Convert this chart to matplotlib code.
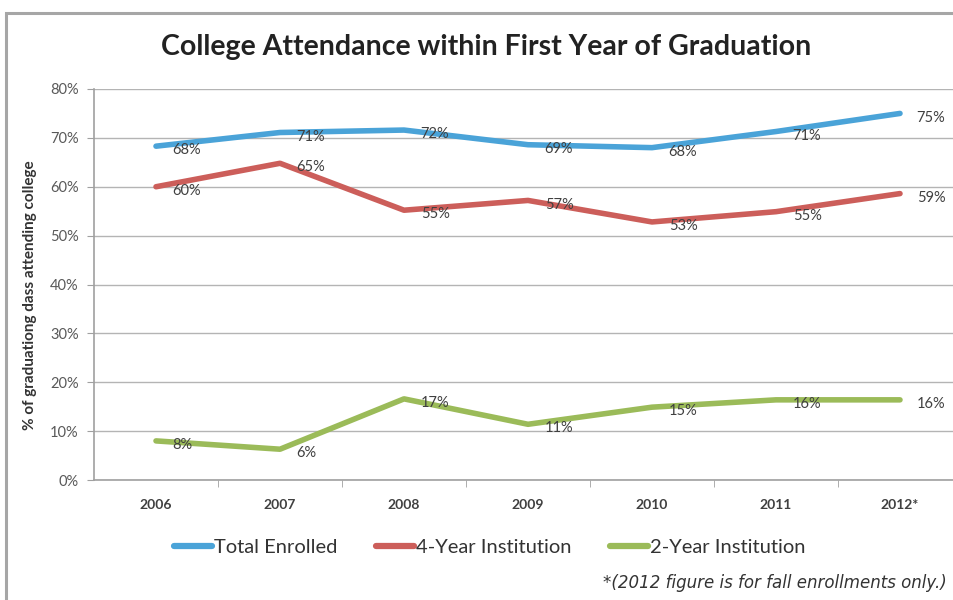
import numpy as np
import matplotlib
matplotlib.use("Agg")
import matplotlib.pyplot as plt
from matplotlib.patches import Rectangle
from matplotlib.lines import Line2D

# data
years = ["2006", "2007", "2008", "2009", "2010", "2011", "2012*"]
total_enrolled = [68.3, 71.1, 71.6, 68.6, 68.0, 71.3, 75.0]
four_year = [60.0, 64.8, 55.2, 57.2, 52.8, 54.9, 58.6]
two_year = [8.0, 6.3, 16.6, 11.4, 14.9, 16.4, 16.4]
series_names = ["Total Enrolled", "4-Year Institution", "2-Year Institution"]
series_colors = ["#4aa3d8", "#cc5e5a", "#9bbb59"]
y_ticks = [0, 10, 20, 30, 40, 50, 60, 70, 80]

plt.rcParams['font.family'] = ['Lato', 'DejaVu Sans']

fig = plt.figure(figsize=(9.54, 6.0), dpi=100)
fig.patch.set_facecolor('white')

# chart border (runs off the right and bottom of the picture)
fig.patches.append(Rectangle((6/954, -0.1), 1.2, 1.1 - 13/600, transform=fig.transFigure,
                             fill=False, edgecolor='#a6a6a6', linewidth=2.2, zorder=0))

ax = fig.add_axes([94/954, 1 - 480/600, 868/954, (480 - 89)/600])
ax.set_facecolor('none')

x = np.arange(len(years))
for vals, name, col in zip([total_enrolled, four_year, two_year], series_names, series_colors):
    ax.plot(x, vals, color=col, linewidth=4.0, solid_capstyle='round', label=name, zorder=3)
    for xi, v in zip(x, vals):
        ax.annotate(f"{v:.0f}%", (xi, v), xytext=(12, -3), textcoords='offset points',
                    ha='left', va='center', fontsize=10.5, color='#404040', zorder=4,
                    annotation_clip=False)

ax.set_xlim(-0.5, len(years) - 0.5)
ax.set_ylim(0, 80)
ax.set_yticks(y_ticks)
ax.set_yticklabels([f"{t}%" for t in y_ticks], fontsize=10.5, color='#595959')
ax.yaxis.grid(True, color='#b4b4b4', linewidth=1)
ax.set_axisbelow(True)

ax.set_xticks(x)
ax.set_xticklabels(years, fontsize=10, color='#404040', fontweight='bold')
ax.set_xticks(np.arange(0.5, len(years) - 0.5, 1), minor=True)
ax.tick_params(axis='x', which='major', length=0, pad=14)
ax.tick_params(axis='x', which='minor', length=5, color='#a0a0a0')
ax.tick_params(axis='y', length=5, color='#a0a0a0', pad=6)

for side in ['top', 'right']:
    ax.spines[side].set_visible(False)
for side in ['left', 'bottom']:
    ax.spines[side].set_color('#a0a0a0')
    ax.spines[side].set_linewidth(1.2)

fig.text(0.51, 1 - 47/600, "College Attendance within First Year of Graduation",
         ha='center', va='center', fontsize=20.5, fontweight='bold', color='#222222')

fig.text(30/954, 1 - 295/600, "% of graduationg dass attending college", rotation=90,
         ha='center', va='center', fontsize=11, fontweight='bold', color='#333333')

handles = [Line2D([0], [0], color=c, linewidth=4.5, solid_capstyle='round') for c in series_colors]
fig.legend(handles, series_names, loc='center', bbox_to_anchor=(490/954, 1 - 547/600),
           ncol=3, frameon=False, fontsize=14.5, handlelength=1.9, handletextpad=0.1,
           columnspacing=1.9, labelcolor='#333333')

fig.text(947/954, 1 - 583/600, "*(2012 figure is for fall enrollments only.)",
         ha='right', va='center', fontsize=12, style='italic', color='#333333',
         family=['Liberation Sans Narrow', 'DejaVu Sans'])

fig.savefig("out.png", dpi=100, facecolor='white')
